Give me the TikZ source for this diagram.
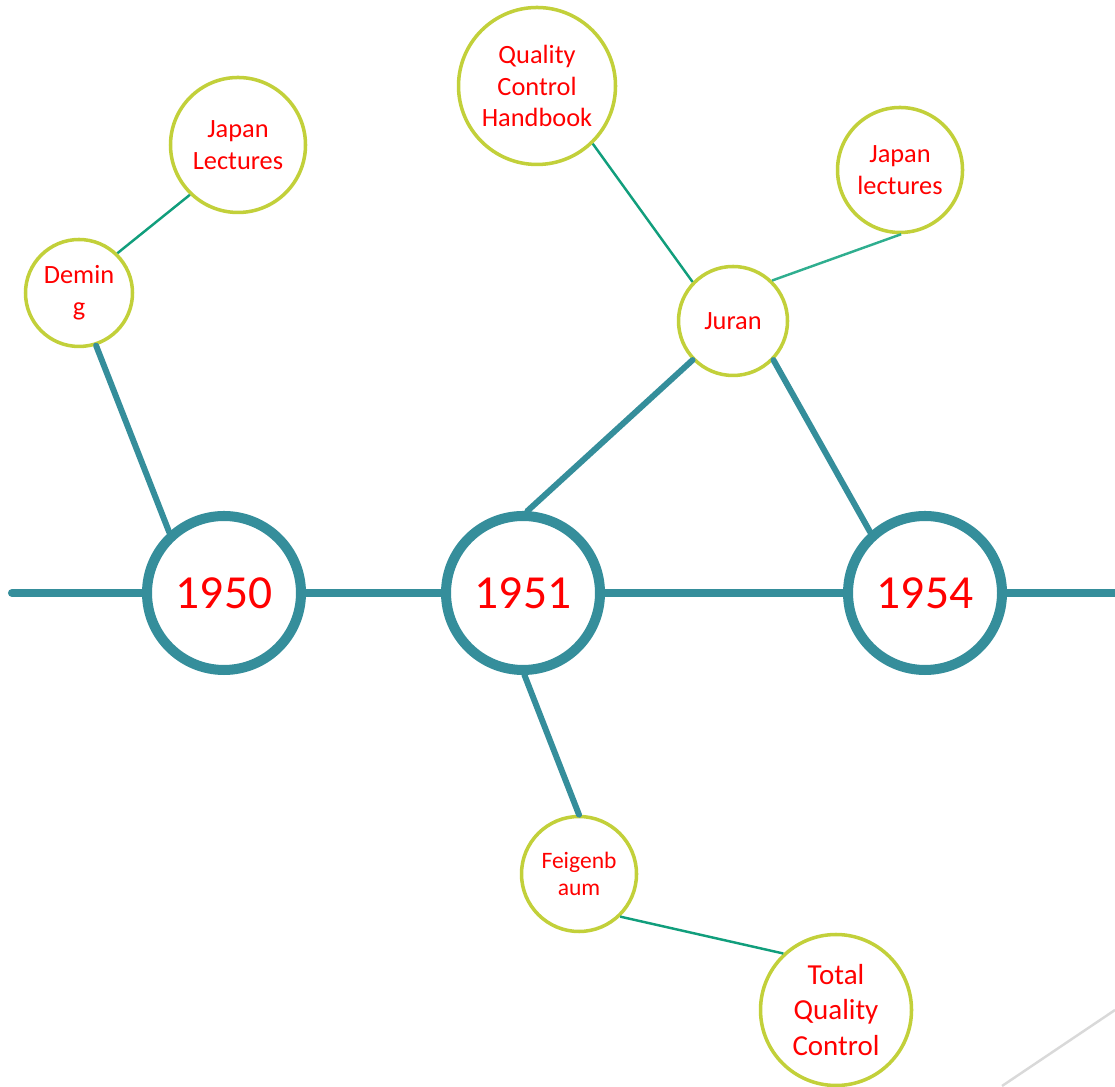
\documentclass[tikz,border=0pt]{standalone}
\usepackage{fontspec}
\setmainfont{Carlito}
\definecolor{teal1}{HTML}{358E9B}
\definecolor{green1}{HTML}{119E7C}
\definecolor{green2}{HTML}{2FAE8F}
\definecolor{lime1}{HTML}{C2D03A}

\begin{document}
\begin{tikzpicture}[
    year/.style={circle, draw=teal1, line width=2.85pt, fill=white, inner sep=0pt,
        minimum size=1.54cm, text=red, font=\fontsize{13.5}{16}\selectfont},
    topic/.style={circle, draw=lime1, line width=1pt, fill=white, inner sep=0pt,
        align=center, text=red, font=\fontsize{7.5}{9}\selectfont},
    stem/.style={draw=teal1, line width=1.7pt, line cap=round},
    twig/.style={draw=green1, line width=0.7pt}]
    \useasboundingbox (0,0) rectangle (11.15,10.86);
    % years on the time line
    \node (y1950) [year] at (2.24,4.93) {1950};
    \node (y1951) [year] at (5.23,4.93) {1951};
    \node (y1954) [year] at (9.25,4.93) {1954};
    \coordinate (tstart) at (0.12,4.93);
    \coordinate (tend) at (11.15,4.93);
    % people and works
    \node (deming) [topic, minimum size=1.07cm] at (0.79,7.93) {Demin\\g};
    \node (japanA) [topic, minimum size=1.35cm] at (2.38,9.41) {Japan\\Lectures};
    \node (qch) [topic, minimum size=1.57cm] at (5.37,10.00) {Quality\\Control\\Handbook};
    \node (japanB) [topic, minimum size=1.25cm] at (9.00,9.16) {Japan\\lectures};
    \node (juran) [topic, minimum size=1.09cm] at (7.33,7.65) {Juran};
    \node (feig) [topic, minimum size=1.15cm, font=\fontsize{6.7}{7.7}\selectfont] at (5.79,2.12) {Feigenb\\aum};
    \node (tqc) [topic, minimum size=1.51cm, font=\fontsize{8.25}{10}\selectfont] at (8.36,0.76) {Total\\Quality\\Control};
    % time line
    \draw[draw=teal1, line width=2.3pt, line cap=round] (tstart) -- (y1950.west);
    \draw[draw=teal1, line width=2.3pt] (y1950.east) -- (y1951.west);
    \draw[draw=teal1, line width=2.3pt] (y1951.east) -- (y1954.west);
    \draw[draw=teal1, line width=2.3pt] (y1954.east) -- (tend);
    % links
    \draw[stem] (deming.-72) -- (y1950.132);
    \draw[stem] (y1951.87) -- (juran.-136);
    \draw[stem] (juran.-44) -- (y1954.132);
    \draw[stem] (y1951.-89) -- (feig.90);
    \draw[twig] (japanA.-134) -- (deming.46);
    \draw[twig] (qch.-46) -- (juran.136);
    \draw[twig, draw=green2] (juran.46) -- (japanB.-89);
    \draw[twig] (feig.-46) -- (tqc.133);
    \draw[gray!30, line width=0.7pt] (10.02,0) -- (11.15,0.76);
\end{tikzpicture}
\end{document}
